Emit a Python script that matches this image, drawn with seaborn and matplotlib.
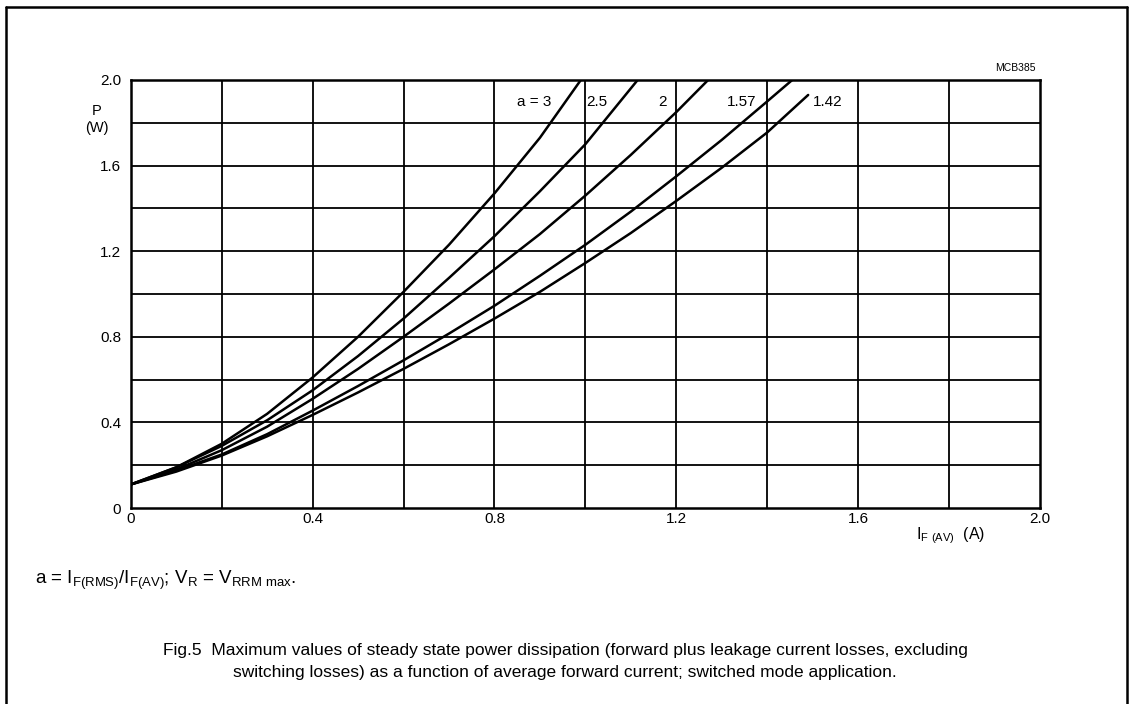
import matplotlib
matplotlib.use("Agg")
import matplotlib.pyplot as plt
from matplotlib.lines import Line2D
import seaborn as sns
import pandas as pd

# ---- data ----
x_a3 = [0.0, 0.1, 0.2, 0.3, 0.4, 0.5, 0.6, 0.7, 0.8, 0.9, 0.99]
y_a3 = [0.11, 0.19, 0.30, 0.44, 0.61, 0.80, 1.01, 1.23, 1.47, 1.73, 2.0]

x_a25 = [0.0, 0.1, 0.2, 0.3, 0.4, 0.5, 0.6, 0.7, 0.8, 0.9, 1.0, 1.115]
y_a25 = [0.11, 0.19, 0.29, 0.41, 0.55, 0.71, 0.885, 1.075, 1.27, 1.48, 1.70, 2.0]

x_a2 = [0.0, 0.1, 0.2, 0.3, 0.4, 0.5, 0.6, 0.7, 0.8, 0.9, 1.0, 1.1, 1.2, 1.27]
y_a2 = [0.11, 0.18, 0.27, 0.38, 0.51, 0.65, 0.80, 0.955, 1.115, 1.28, 1.46, 1.65, 1.85, 2.0]

x_a157 = [0.0, 0.1, 0.2, 0.3, 0.4, 0.5, 0.6, 0.7, 0.8, 0.9, 1.0, 1.1, 1.2, 1.3, 1.4, 1.455]
y_a157 = [0.11, 0.175, 0.25, 0.345, 0.455, 0.57, 0.69, 0.815, 0.945, 1.085, 1.23, 1.385, 1.55, 1.72, 1.90, 2.0]

x_a142 = [0.0, 0.1, 0.2, 0.3, 0.4, 0.5, 0.6, 0.7, 0.8, 0.9, 1.0, 1.1, 1.2, 1.3, 1.4, 1.49]
y_a142 = [0.11, 0.17, 0.245, 0.335, 0.435, 0.54, 0.65, 0.765, 0.885, 1.01, 1.145, 1.285, 1.435, 1.59, 1.755, 1.93]

curve_labels = ["a = 3", "2.5", "2", "1.57", "1.42"]
x_ticks = [0, 0.4, 0.8, 1.2, 1.6, 2.0]
x_tick_labels = ["0", "0.4", "0.8", "1.2", "1.6", "2.0"]
y_ticks = [0, 0.4, 0.8, 1.2, 1.6, 2.0]
y_tick_labels = ["0", "0.4", "0.8", "1.2", "1.6", "2.0"]
grid_steps = [0.2 * i for i in range(11)]

frames = []
for lab, xs, ys in zip(curve_labels,
                       [x_a3, x_a25, x_a2, x_a157, x_a142],
                       [y_a3, y_a25, y_a2, y_a157, y_a142]):
    frames.append(pd.DataFrame({"I": xs, "P": ys, "a": lab}))
df = pd.concat(frames, ignore_index=True)

sns.set_theme(style="white")
plt.rcParams["font.family"] = ["Liberation Sans", "DejaVu Sans"]
plt.rcParams["mathtext.default"] = "regular"
plt.rcParams["text.color"] = "black"
plt.rcParams["axes.labelcolor"] = "black"
plt.rcParams["xtick.color"] = "black"
plt.rcParams["ytick.color"] = "black"

fig = plt.figure(figsize=(11.29, 7.04), dpi=100)
ax = fig.add_axes([0.1158, 0.2784, 0.8054, 0.608])

sns.lineplot(data=df, x="I", y="P", units="a", estimator=None, sort=False,
             color="black", linewidth=1.8, ax=ax, legend=False)

ax.set_xlim(0, 2.0)
ax.set_ylim(0, 2.0)
for v in grid_steps[1:-1]:
    ax.axvline(v, color="black", linewidth=1.3, zorder=1)
    ax.axhline(v, color="black", linewidth=1.3, zorder=1)
ax.set_xticks(x_ticks)
ax.set_xticklabels(x_tick_labels)
ax.set_yticks(y_ticks)
ax.set_yticklabels(y_tick_labels)
ax.tick_params(axis="x", length=0, labelsize=11, colors="black", pad=3)
ax.tick_params(axis="y", length=0, labelsize=11, colors="black", pad=7)
for s in ax.spines.values():
    s.set_color("black")
    s.set_linewidth(1.8)
ax.set_xlabel("")
ax.set_ylabel("")

# curve labels (right edge for first four, left edge for the last)
label_pos = [(0.926, 1.897, "right"), (1.025, 1.897, "center"), (1.179, 1.897, "right"),
             (1.375, 1.897, "right"), (1.50, 1.897, "left")]
for (lx, ly, ha), t in zip(label_pos, curve_labels):
    ax.text(lx, ly, t, ha=ha, va="center", fontsize=11, color="black")

# axis titles
fig.text(97 / 1129, 1 - 111 / 704, "P", ha="center", va="center", fontsize=10.5)
fig.text(97 / 1129, 1 - 128 / 704, "(W)", ha="center", va="center", fontsize=10.5)
fig.text(951 / 1129, 1 - 536 / 704, r"I$_{F\ (AV)}$  (A)", ha="center", va="center", fontsize=11.5)
fig.text(1036 / 1129, 1 - 68 / 704, "MCB385", ha="right", va="center", fontsize=7.5)

# notes
fig.text(35 / 1129, 1 - 580 / 704,
         r"a = I$_{F(RMS)}$/I$_{F(AV)}$; V$_{R}$ = V$_{RRM\ max}$.",
         ha="left", va="center", fontsize=13.5)
fig.text(565 / 1129, 1 - 650 / 704,
         "Fig.5  Maximum values of steady state power dissipation (forward plus leakage current losses, excluding",
         ha="center", va="center", fontsize=12.5)
fig.text(565 / 1129, 1 - 673 / 704,
         "switching losses) as a function of average forward current; switched mode application.",
         ha="center", va="center", fontsize=12.5)

# outer frame (left, top, right)
fig.add_artist(Line2D([6 / 1129, 6 / 1129], [0, 1 - 7 / 704], transform=fig.transFigure, color="black", lw=1.8))
fig.add_artist(Line2D([6 / 1129, 1127 / 1129], [1 - 7 / 704, 1 - 7 / 704], transform=fig.transFigure, color="black", lw=1.8))
fig.add_artist(Line2D([1127 / 1129, 1127 / 1129], [0, 1 - 7 / 704], transform=fig.transFigure, color="black", lw=1.8))

fig.savefig("out.png", dpi=100, facecolor="white")
